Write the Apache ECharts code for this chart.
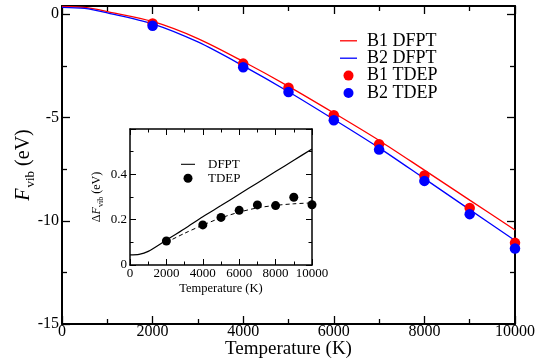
<!DOCTYPE html>
<html>
<head>
<meta charset="utf-8">
<script src="https://cdn.jsdelivr.net/npm/echarts@6/dist/echarts.min.js"></script>
<style>
  html, body { margin: 0; padding: 0; background: #fff; }
  #chart { width: 535px; height: 362px; }
</style>
</head>
<body>
<div id="chart"></div>
<script>
// main panel: DFPT curves
const dfptT = [0, 500, 1000, 2000, 3000, 4000, 5000, 6000, 7000, 8000, 9000, 10000]
const b1Dfpt = [0.38, 0.33, 0.13, -0.35, -1.18, -2.29, -3.49, -4.78, -6.11, -7.55, -9.0, -10.45]
const b2Dfpt = [0.335, 0.285, 0.07, -0.46, -1.34, -2.5, -3.75, -5.09, -6.47, -7.96, -9.46, -10.96]
// main panel: TDEP points
const tdepT = [2000, 4000, 5000, 6000, 7000, 8000, 9000, 10000]
const b1Tdep = [-0.45, -2.39, -3.56, -4.89, -6.29, -7.81, -9.38, -11.07]
const b2Tdep = [-0.556, -2.567, -3.77, -5.13, -6.555, -8.07, -9.68, -11.34]
// inset: difference
const dDfpt = [0.045, 0.047, 0.06, 0.11, 0.16, 0.213, 0.262, 0.312, 0.362, 0.412, 0.462, 0.512]
const dTdep = [0.106, 0.177, 0.21, 0.241, 0.265, 0.262, 0.299, 0.266]
const fitT = [2000, 3000, 4000, 5000, 6000, 7000, 8000, 9000, 10000]
const dFit = [0.1, 0.14, 0.176, 0.208, 0.233, 0.252, 0.263, 0.27, 0.274]
// tick labels
const yMajor = [-15, -10, -5, 0]
const yMinor = [-12.5, -7.5, -2.5]

const FONT = "'Liberation Serif', 'Times New Roman', serif"
const zip = (xs, ys) => xs.map((x, i) => [x, ys[i]])
const plain = (v) => String(v)
// thin bar used as legend icon for the curves
const LINE_ICON = 'path://M0 0H17V1.3H0Z'

const chart = echarts.init(document.getElementById('chart'), null, { renderer: 'canvas' })

const lineAx = (w) => ({ show: true, onZero: false, lineStyle: { color: '#000', width: w } })
const tick = (len, w, extra) => Object.assign({ show: true, inside: true, length: len, lineStyle: { color: '#000', width: w } }, extra)
const minor = (len, w) => ({ show: true, splitNumber: 2, length: len, lineStyle: { color: '#000', width: w } })
const MAIN = { left: 62, top: 6, width: 453, height: 318, outerBoundsMode: 'none', containLabel: false }

const option = {
  backgroundColor: '#fff',
  animation: false,
  grid: [
    MAIN,
    {
      left: 130, top: 129, width: 182, height: 136, outerBoundsMode: 'none', containLabel: false,
      show: true, backgroundColor: '#fff', borderWidth: 0, z: 10,
    },
    // same box as the main panel, only carries the minor y ticks
    Object.assign({}, MAIN),
  ],
  legend: [
    {
      data: [
        { name: 'B1 DFPT', icon: LINE_ICON },
        { name: 'B2 DFPT', icon: LINE_ICON },
        { name: 'B1 TDEP', icon: 'circle' },
        { name: 'B2 TDEP', icon: 'circle' },
      ],
      orient: 'vertical',
      left: 335,
      top: 26.8,
      itemWidth: 17,
      itemHeight: 10,
      itemGap: -0.6,
      selectedMode: false,
      textStyle: { fontFamily: FONT, fontSize: 18, color: '#000', padding: [0, 0, 0, 5] },
    },
    {
      data: [
        { name: 'DFPT', icon: LINE_ICON },
        { name: 'TDEP', icon: 'circle' },
      ],
      orient: 'vertical',
      left: 176,
      top: 152.8,
      itemWidth: 14,
      itemHeight: 9,
      itemGap: 1,
      selectedMode: false,
      z: 14,
      textStyle: { fontFamily: FONT, fontSize: 13, color: '#000', padding: [0, 0, 0, 8] },
    },
  ],
  xAxis: [
    {
      gridIndex: 0, type: 'value', position: 'bottom', min: 0, max: 10000, interval: 2000,
      axisLine: lineAx(2),
      axisTick: tick(8, 1.3),
      minorTick: minor(5, 1.3),
      axisLabel: { fontFamily: FONT, fontSize: 16, color: '#000', margin: 0, formatter: plain },
      splitLine: { show: false },
      name: 'Temperature (K)', nameLocation: 'middle', nameGap: 16, nameMoveOverlap: false,
      nameTextStyle: { fontFamily: FONT, fontSize: 19, color: '#000' },
    },
    {
      gridIndex: 0, type: 'value', position: 'top', min: 0, max: 10000, interval: 2000,
      axisLine: lineAx(2),
      axisTick: tick(8, 1.3),
      minorTick: minor(5, 1.3),
      axisLabel: { show: false },
      splitLine: { show: false },
    },
    {
      gridIndex: 1, type: 'value', position: 'bottom', min: 0, max: 10000, interval: 2000, z: 11,
      axisLine: lineAx(1.5),
      axisTick: tick(6, 1),
      minorTick: minor(3.5, 1),
      axisLabel: { fontFamily: FONT, fontSize: 13, color: '#000', margin: 2, formatter: plain },
      splitLine: { show: false },
      name: 'Temperature (K)', nameLocation: 'middle', nameGap: 17, nameMoveOverlap: false,
      nameTextStyle: { fontFamily: FONT, fontSize: 12.5, color: '#000' },
    },
    {
      gridIndex: 1, type: 'value', position: 'top', min: 0, max: 10000, interval: 2000, z: 11,
      axisLine: lineAx(1.5),
      axisTick: tick(6, 1),
      minorTick: minor(3.5, 1),
      axisLabel: { show: false },
      splitLine: { show: false },
    },
    { gridIndex: 2, type: 'value', min: 0, max: 10000, show: false },
  ],
  yAxis: [
    {
      gridIndex: 0, type: 'value', position: 'left', min: -15, max: 0.4,
      axisLine: lineAx(2),
      axisTick: tick(8, 1.3, { customValues: yMajor }),
      axisLabel: { customValues: yMajor, fontFamily: FONT, fontSize: 16, color: '#000', margin: 3, formatter: plain },
      splitLine: { show: false },
      name: '{i|F}{s|vib}{n| (eV)}', nameLocation: 'middle', nameGap: 28, nameRotate: 90, nameMoveOverlap: false,
      nameTextStyle: {
        rich: {
          i: { fontFamily: FONT, fontStyle: 'italic', fontSize: 20, lineHeight: 20, color: '#000' },
          s: { fontFamily: FONT, fontSize: 13, lineHeight: 13, padding: [13, 0, 0, 1], color: '#000' },
          n: { fontFamily: FONT, fontSize: 20, lineHeight: 20, color: '#000' },
        },
      },
    },
    {
      gridIndex: 0, type: 'value', position: 'right', min: -15, max: 0.4,
      axisLine: lineAx(2),
      axisTick: tick(8, 1.3, { customValues: yMajor }),
      axisLabel: { show: false },
      splitLine: { show: false },
    },
    {
      gridIndex: 1, type: 'value', position: 'left', min: 0, max: 0.6, interval: 0.2, z: 11,
      axisLine: lineAx(1.5),
      axisTick: tick(6, 1),
      minorTick: minor(3.5, 1),
      axisLabel: { fontFamily: FONT, fontSize: 13, color: '#000', margin: 3, showMaxLabel: false, formatter: plain },
      splitLine: { show: false },
      name: '{n|Δ}{i|F}{s|vib}{n| (eV)}', nameLocation: 'middle', nameGap: 27, nameRotate: 90, nameMoveOverlap: false,
      nameTextStyle: {
        rich: {
          i: { fontFamily: FONT, fontStyle: 'italic', fontSize: 12, lineHeight: 12, color: '#000' },
          s: { fontFamily: FONT, fontSize: 8, lineHeight: 8, padding: [8, 0, 0, 0], color: '#000' },
          n: { fontFamily: FONT, fontSize: 12, lineHeight: 12, color: '#000' },
        },
      },
    },
    {
      gridIndex: 1, type: 'value', position: 'right', min: 0, max: 0.6, interval: 0.2, z: 11,
      axisLine: lineAx(1.5),
      axisTick: tick(6, 1),
      minorTick: minor(3.5, 1),
      axisLabel: { show: false },
      splitLine: { show: false },
    },
    {
      gridIndex: 2, type: 'value', position: 'left', min: -15, max: 0.4,
      axisLine: { show: false },
      axisTick: tick(5, 1.3, { customValues: yMinor }),
      axisLabel: { show: false },
      splitLine: { show: false },
    },
    {
      gridIndex: 2, type: 'value', position: 'right', min: -15, max: 0.4,
      axisLine: { show: false },
      axisTick: tick(5, 1.3, { customValues: yMinor }),
      axisLabel: { show: false },
      splitLine: { show: false },
    },
  ],
  series: [
    {
      name: 'B1 DFPT', type: 'line', xAxisIndex: 0, yAxisIndex: 0, smooth: 0.3, symbol: 'none',
      data: zip(dfptT, b1Dfpt), color: '#ff0000', lineStyle: { width: 1.3 }, z: 2,
    },
    {
      name: 'B2 DFPT', type: 'line', xAxisIndex: 0, yAxisIndex: 0, smooth: 0.3, symbol: 'none',
      data: zip(dfptT, b2Dfpt), color: '#0000ff', lineStyle: { width: 1.3 }, z: 2,
    },
    {
      name: 'B1 TDEP', type: 'scatter', xAxisIndex: 0, yAxisIndex: 0, symbol: 'circle', symbolSize: 10.5,
      data: zip(tdepT, b1Tdep), color: '#ff0000', itemStyle: { opacity: 1 }, z: 3,
    },
    {
      name: 'B2 TDEP', type: 'scatter', xAxisIndex: 0, yAxisIndex: 0, symbol: 'circle', symbolSize: 10.5,
      data: zip(tdepT, b2Tdep), color: '#0000ff', itemStyle: { opacity: 1 }, z: 4,
    },
    {
      name: 'DFPT', type: 'line', xAxisIndex: 2, yAxisIndex: 2, smooth: 0.3, symbol: 'none',
      data: zip(dfptT, dDfpt), color: '#000', lineStyle: { width: 1.2 }, z: 12,
    },
    {
      name: 'fit', type: 'line', xAxisIndex: 2, yAxisIndex: 2, smooth: 0.3, symbol: 'none',
      data: zip(fitT, dFit), color: '#000', lineStyle: { width: 1, type: [4, 3] }, z: 12,
    },
    {
      name: 'TDEP', type: 'scatter', xAxisIndex: 2, yAxisIndex: 2, symbol: 'circle', symbolSize: 9,
      data: zip(tdepT, dTdep), color: '#000', itemStyle: { opacity: 1 }, z: 13,
    },
  ],
}

option && chart.setOption(option)
</script>
</body>
</html>
